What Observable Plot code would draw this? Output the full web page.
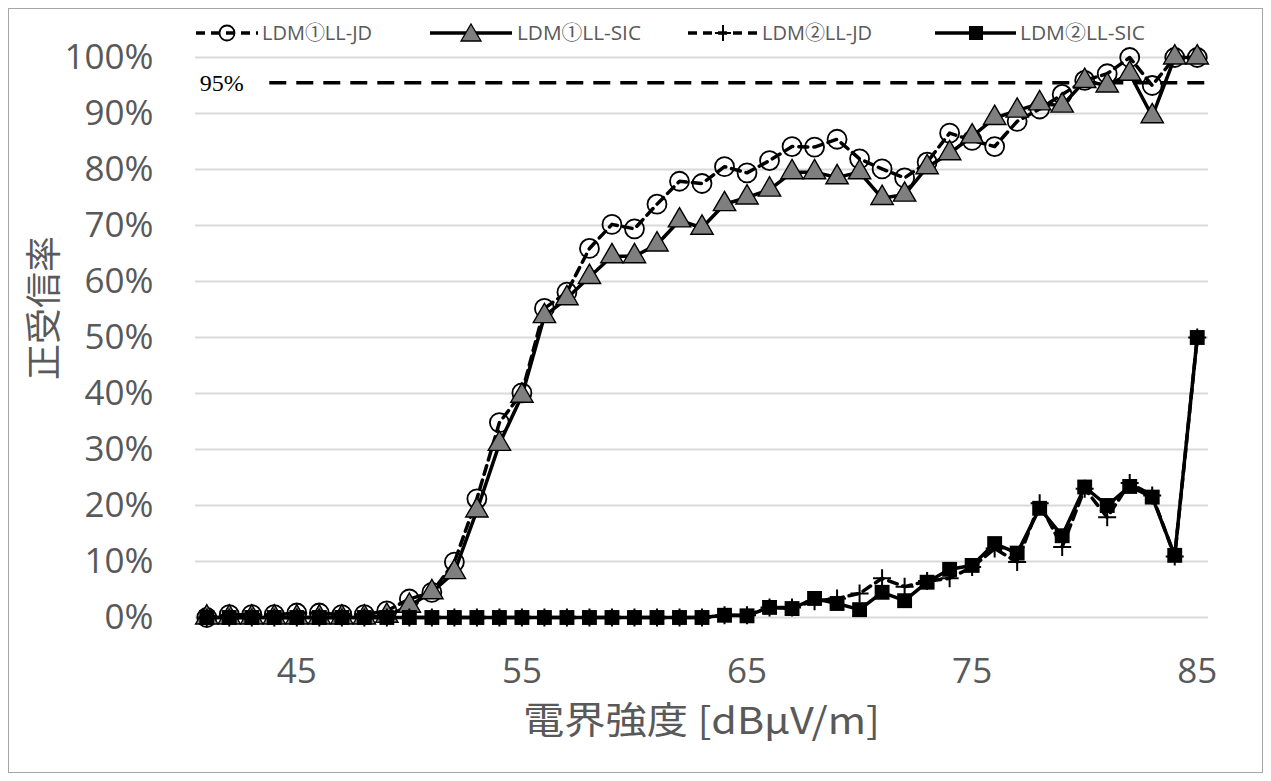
<!DOCTYPE html>
<html><head><meta charset="utf-8">
<script src="https://cdn.jsdelivr.net/npm/d3@7"></script>
<script src="https://cdn.jsdelivr.net/npm/@observablehq/plot@0.6"></script>
<style>
body{margin:0;background:#fff;}
#wrap{position:relative;width:1271px;height:781px;overflow:hidden;background:#fff;}
#frame{position:absolute;left:8px;top:8px;width:1255px;height:765px;border:1.5px solid #a6a6a6;box-sizing:border-box;pointer-events:none;}
#chart{position:absolute;left:0;top:0;}
.leg{position:absolute;top:23px;height:20px;}
.legtxt{position:absolute;top:20px;font-family:"Open Sans","Noto Sans CJK JP",sans-serif;font-size:20px;line-height:26px;color:#595959;white-space:nowrap;transform-origin:left center;}
#ytitle{position:absolute;font-family:"Noto Sans CJK JP",sans-serif;font-size:36px;color:#595959;white-space:nowrap;line-height:42px;}
#xtitle{position:absolute;font-family:"Noto Sans CJK JP",sans-serif;font-size:37px;color:#595959;white-space:nowrap;line-height:44px;top:696px;transform-origin:left center;}
</style></head><body>
<div id="wrap">
  <div id="chart"></div>
  <div id="frame"></div>
  <svg class="leg" style="left:196px" width="64" height="20"><line x1="0" x2="62" y1="10" y2="10" stroke="#000" stroke-width="3.5" stroke-dasharray="9,6"/><circle cx="31" cy="10" r="7.5" fill="none" stroke="#000" stroke-width="1.8"/></svg>
  <div class="legtxt" style="left:262px" data-w="110">LDM①LL-JD</div>
  <svg class="leg" style="left:430px" width="84" height="20"><line x1="0" x2="82" y1="10" y2="10" stroke="#000" stroke-width="3.5"/><polygon points="41,1 51,18 31,18" fill="#7f7f7f" stroke="#000" stroke-width="1.3"/></svg>
  <div class="legtxt" style="left:517px" data-w="124">LDM①LL-SIC</div>
  <svg class="leg" style="left:688px" width="72" height="20"><line x1="0" x2="70" y1="10" y2="10" stroke="#000" stroke-width="3.5" stroke-dasharray="9,6"/><line x1="27" x2="43" y1="10" y2="10" stroke="#000" stroke-width="2"/><line x1="35" x2="35" y1="2" y2="18" stroke="#000" stroke-width="2"/></svg>
  <div class="legtxt" style="left:762px" data-w="110">LDM②LL-JD</div>
  <svg class="leg" style="left:935px" width="83" height="20"><line x1="0" x2="81" y1="10" y2="10" stroke="#000" stroke-width="3.5"/><rect x="34" y="3" width="14" height="14" fill="#000"/></svg>
  <div class="legtxt" style="left:1020px" data-w="125">LDM②LL-SIC</div>
  <div id="ytitle">正受信率</div>
  <div id="xtitle" data-w="357">電界強度 [dBμV/m]</div>
</div>
<script>
// Field strength categories [dBμV/m]
const fieldStrength = [41,42,43,44,45,46,47,48,49,50,51,52,53,54,55,56,57,58,59,60,61,62,63,64,65,66,67,68,69,70,71,72,73,74,75,76,77,78,79,80,81,82,83,84,85];
// Correct reception rate [%]
const ldm1JD  = [0,0.5,0.5,0.5,0.8,0.8,0.5,0.5,1.2,3.3,4.5,9.9,21.2,34.8,40.1,55.2,58.1,65.9,70.2,69.4,73.8,77.9,77.5,80.5,79.4,81.6,84.1,84.0,85.4,81.9,80.1,78.5,81.3,86.5,85.2,84.1,88.6,90.8,93.4,95.9,97.1,100,95.0,100,100];
const ldm1SIC = [0,0,0,0,0,0,0,0,0.3,2.1,4.5,8.1,19.1,31.0,39.6,53.8,57.0,60.8,64.5,64.5,66.6,70.9,69.6,73.8,75.0,76.4,79.5,79.5,78.6,79.5,74.9,75.5,80.4,82.9,85.9,89.2,90.5,91.8,91.4,95.8,95.0,97.1,89.5,100,100];
const ldm2JD  = [0,0,0,0,0,0,0,0,0,0,0,0,0,0,0,0,0,0,0,0,0,0,0,0.4,0.4,1.8,1.8,2.9,3.4,4.3,7.0,5.5,6.5,7.0,9.0,12.3,9.9,20.4,12.6,23.0,17.9,24.0,21.8,10.9,50];
const ldm2SIC = [0,0,0,0,0,0,0,0,0,0,0,0,0,0,0,0,0,0,0,0,0,0,0,0.4,0.3,1.8,1.6,3.4,2.5,1.4,4.5,3.0,6.3,8.6,9.3,13.2,11.5,19.5,14.6,23.3,20.0,23.4,21.5,11.1,50];
const xTicks = [45,55,65,75,85];
const yTicks = [0,10,20,30,40,50,60,70,80,90,100];
const threshold = [{value:95.5, from:43.8, to:85.5, label:"95%"}];

const rows = fieldStrength.map((x,i)=>({x, jd1:ldm1JD[i], sic1:ldm1SIC[i], jd2:ldm2JD[i], sic2:ldm2SIC[i]}));

const plusSymbol = {draw(ctx, size){ const r = Math.sqrt(size/Math.PI); ctx.moveTo(-r,0); ctx.lineTo(r,0); ctx.moveTo(0,-r); ctx.lineTo(0,r); }};

const chart = Plot.plot({
  width:1271, height:781,
  marginLeft:195, marginRight:63, marginTop:57, marginBottom:164,
  x:{domain:[40.5,85.5], ticks:xTicks, tickSize:0, tickPadding:41, label:null},
  y:{domain:[0,100], ticks:yTicks, tickFormat:d=>d+"%", tickSize:0, tickPadding:42, label:null},
  style:{fontFamily:"'Open Sans', sans-serif", fontSize:"35px", color:"#595959", background:"transparent", overflow:"visible"},
  marks:[
    Plot.ruleY(yTicks, {stroke:"#d9d9d9", strokeWidth:2}),
    Plot.ruleY(threshold, {y:"value", x1:"from", x2:"to", stroke:"#000", strokeWidth:3.5, strokeDasharray:"17,10"}),
    Plot.text(threshold, {x:"from", y:"value", text:"label", textAnchor:"end", dx:-26, dy:1, fontFamily:"'Liberation Serif', serif", fontSize:24, fill:"#000"}),
    Plot.line(rows, {x:"x", y:"jd1", stroke:"#000", strokeWidth:3.5, strokeDasharray:"9,6"}),
    Plot.dot(rows, {x:"x", y:"jd1", symbol:"circle", r:9.5, fill:"none", stroke:"#000", strokeWidth:1.8}),
    Plot.line(rows, {x:"x", y:"sic1", stroke:"#000", strokeWidth:3.5}),
    Plot.dot(rows, {x:"x", y:"sic1", symbol:"triangle", r:8.3, fill:"#7f7f7f", stroke:"#000", strokeWidth:1.4}),
    Plot.line(rows, {x:"x", y:"jd2", stroke:"#000", strokeWidth:3.5, strokeDasharray:"9,6"}),
    Plot.dot(rows, {x:"x", y:"jd2", symbol:plusSymbol, r:9, fill:"none", stroke:"#000", strokeWidth:2}),
    Plot.line(rows, {x:"x", y:"sic2", stroke:"#000", strokeWidth:3.5}),
    Plot.dot(rows, {x:"x", y:"sic2", symbol:"square", r:8.4, fill:"#000", stroke:"none"})
  ]
});
document.getElementById("chart").appendChild(chart);

// fit text widths
document.querySelectorAll("[data-w]").forEach(el=>{
  const w = el.getBoundingClientRect().width;
  const t = +el.dataset.w;
  if (w>0) el.style.transform = `scaleX(${t/w})`;
});
const xt = document.getElementById("xtitle");
xt.style.left = "523px";
const yt = document.getElementById("ytitle");
const r = yt.getBoundingClientRect();
yt.style.left = (41 - r.width/2) + "px";
yt.style.top = (308 - r.height/2) + "px";
yt.style.transform = "rotate(-90deg)";
</script>
</body></html>
